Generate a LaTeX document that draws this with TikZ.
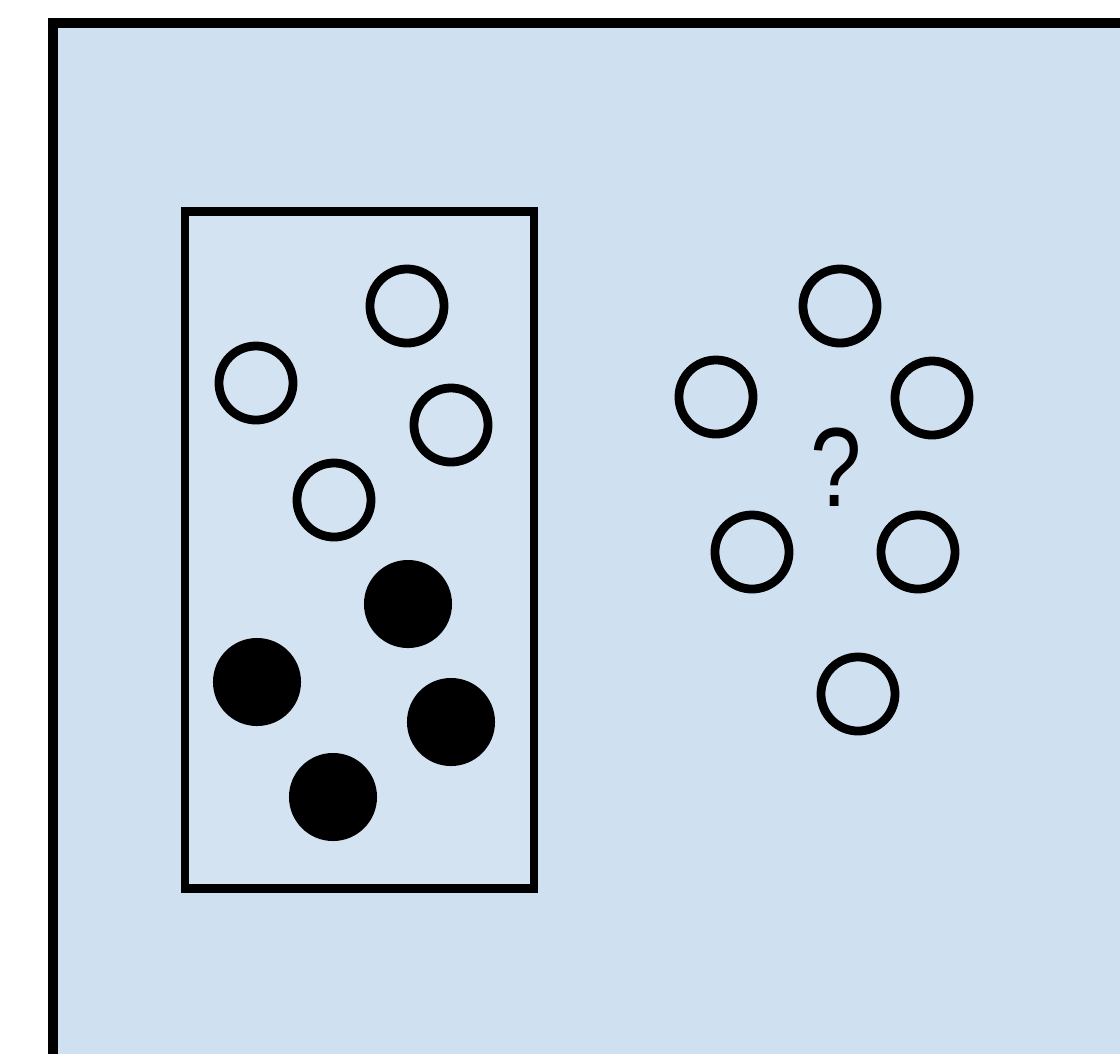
\documentclass[tikz,border=0pt]{standalone}
\usepackage{fontspec}
\setmainfont{Liberation Sans}
\definecolor{paneBlue}{RGB}{207,224,241}
\definecolor{boxBlue}{RGB}{211,227,241}
\usepackage{tikz}
\usetikzlibrary{positioning}

\begin{document}
\begin{tikzpicture}[x=0.01cm,y=-0.01cm,
    openball/.style={circle, draw=black, line width=2.5pt, minimum size=0.74cm, inner sep=0pt},
    fullball/.style={circle, fill=black, minimum size=0.88cm, inner sep=0pt}]
  \useasboundingbox (0,0) rectangle (1120,1053);
  \clip (0,0) rectangle (1120,1053);
  % outer pane
  \draw[line width=2.8pt, fill=paneBlue] (53,23) rectangle (1170,1100);
  % labelled sample box
  \node[draw=black, line width=2.5pt, fill=boxBlue, minimum width=3.49cm,
        minimum height=6.76cm, inner sep=0pt] (box) at (359.5,550) {};
  % open balls in the box
  \node[openball] (o1) at (407,306) {};
  \node[openball] (o2) at (256,383) {};
  \node[openball] (o3) at (451,425) {};
  \node[openball] (o4) at (334,500) {};
  % filled balls in the box
  \node[fullball] (f1) at (408,604) {};
  \node[fullball] (f2) at (257,682) {};
  \node[fullball] (f3) at (451,722) {};
  \node[fullball] (f4) at (333,797) {};
  % unlabelled balls
  \node[openball] (u1) at (840,306) {};
  \node[openball] (u2) at (716,397) {};
  \node[openball] (u3) at (932,398) {};
  \node[openball] (u4) at (752,552) {};
  \node[openball] (u5) at (918,552) {};
  \node[openball] (u6) at (858,694) {};
  % question mark
  \node[inner sep=0pt, font=\fontsize{32}{38}\selectfont] (q) at (836,467)
    {\scalebox{0.82}[1]{?}};
\end{tikzpicture}
\end{document}
